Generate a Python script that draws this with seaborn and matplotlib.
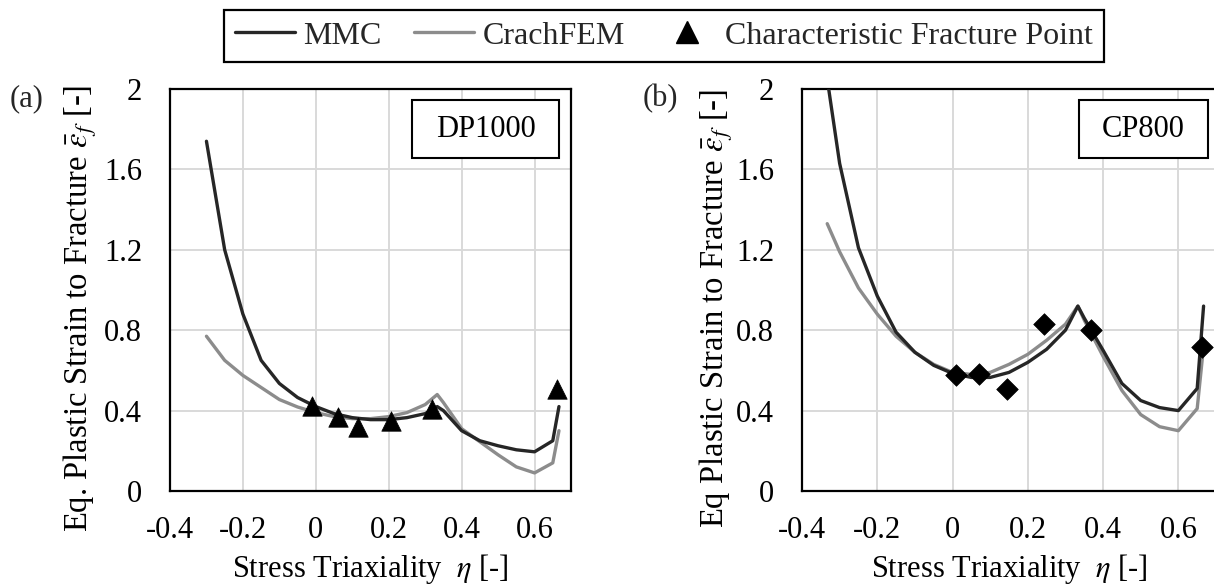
import matplotlib
matplotlib.use("Agg")
import matplotlib.pyplot as plt
import seaborn as sns
from matplotlib.lines import Line2D
from matplotlib.patches import Rectangle

# ---------------- data ----------------
eta_dp = [-0.3, -0.25, -0.2, -0.15, -0.1, -0.05, 0.0, 0.05, 0.1, 0.15, 0.2, 0.25,
          0.3, 0.333, 0.35, 0.4, 0.45, 0.5, 0.55, 0.6, 0.65, 0.667]
mmc_dp = [1.74, 1.20, 0.88, 0.65, 0.535, 0.465, 0.42, 0.385, 0.365, 0.355, 0.355, 0.365,
          0.385, 0.42, 0.40, 0.30, 0.25, 0.225, 0.205, 0.195, 0.25, 0.42]
crach_dp = [0.77, 0.65, 0.575, 0.515, 0.455, 0.418, 0.39, 0.37, 0.36, 0.36, 0.37, 0.39,
            0.43, 0.48, 0.44, 0.31, 0.245, 0.18, 0.12, 0.09, 0.14, 0.30]
pts_dp_x = [-0.01, 0.06, 0.115, 0.207, 0.318, 0.662]
pts_dp_y = [0.425, 0.37, 0.317, 0.35, 0.408, 0.507]

eta_cp = [-0.333, -0.3, -0.25, -0.2, -0.15, -0.1, -0.05, 0.0, 0.05, 0.1, 0.15, 0.2,
          0.25, 0.3, 0.333, 0.35, 0.4, 0.45, 0.5, 0.55, 0.6, 0.65, 0.667]
mmc_cp = [2.05, 1.63, 1.21, 0.97, 0.79, 0.69, 0.625, 0.585, 0.565, 0.565, 0.59, 0.64,
          0.705, 0.80, 0.92, 0.86, 0.70, 0.535, 0.45, 0.415, 0.40, 0.51, 0.92]
crach_cp = [1.33, 1.19, 1.01, 0.88, 0.77, 0.69, 0.63, 0.59, 0.58, 0.59, 0.63, 0.68,
            0.75, 0.83, 0.92, 0.85, 0.67, 0.50, 0.38, 0.32, 0.30, 0.41, 0.72]
pts_cp_x = [0.01, 0.07, 0.145, 0.242, 0.368, 0.664]
pts_cp_y = [0.577, 0.582, 0.507, 0.83, 0.80, 0.714]

xticks = [-0.4, -0.2, 0.0, 0.2, 0.4, 0.6]
xtick_labels = ["-0.4", "-0.2", "0", "0.2", "0.4", "0.6"]
yticks = [0.0, 0.4, 0.8, 1.2, 1.6, 2.0]
ytick_labels = ["0", "0.4", "0.8", "1.2", "1.6", "2"]
series_names = ["MMC", "CrachFEM", "Characteristic Fracture Point"]
materials = ["DP1000", "CP800"]
panel_tags = ["(a)", "(b)"]
ylabels = [r"Eq. Plastic Strain to Fracture $\bar{\varepsilon}_f$ [-]",
           r"Eq Plastic Strain to Fracture $\bar{\varepsilon}_f$ [-]"]
xlabel = r"Stress Triaxiality  $\eta$ [-]"

# ---------------- style ----------------
sns.set_theme(style="white")
plt.rcParams["font.family"] = ["Liberation Serif", "DejaVu Serif"]
plt.rcParams["mathtext.fontset"] = "stix"
plt.rcParams["axes.unicode_minus"] = False

C_MMC = "#262626"
C_CR = "#8c8c8c"
FS = 22

fig = plt.figure(figsize=(12.14, 5.85), dpi=100, facecolor="white")
W, H = 1214.0, 585.0
ax1 = fig.add_axes([170 / W, 1 - 491 / H, 401 / W, 402 / H])
ax2 = fig.add_axes([802 / W, 1 - 491 / H, 414 / W, 402 / H])

panels = [
    (ax1, eta_dp, mmc_dp, crach_dp, pts_dp_x, pts_dp_y, "^", 14 ** 2),
    (ax2, eta_cp, mmc_cp, crach_cp, pts_cp_x, pts_cp_y, "D", 11 ** 2),
]
boxes = [(0.6035, 0.828, 0.3665, 0.1445), (0.668, 0.828, 0.312, 0.1445)]
ylab_x = [-0.177, -0.162]

for i, (ax, ex, mm, cr, px, py, mk, ms) in enumerate(panels):
    sns.lineplot(x=ex, y=cr, ax=ax, color=C_CR, lw=2.4, estimator=None, sort=False, zorder=3)
    sns.lineplot(x=ex, y=mm, ax=ax, color=C_MMC, lw=2.4, estimator=None, sort=False, zorder=4)
    sns.scatterplot(x=px, y=py, ax=ax, marker=mk, s=ms, color="black",
                    edgecolor="black", linewidth=0.5, zorder=5)
    ax.set_xlim(-0.4, 0.7)
    ax.set_ylim(0, 2)
    ax.set_xticks(xticks)
    ax.set_xticklabels(xtick_labels)
    ax.set_yticks(yticks)
    ax.set_yticklabels(ytick_labels)
    ax.tick_params(axis="both", length=0, labelsize=FS, colors="black")
    ax.tick_params(axis="y", pad=20)
    ax.tick_params(axis="x", pad=18)
    ax.grid(True, color="#d9d9d9", lw=1.4)
    ax.set_axisbelow(True)
    for sp in ax.spines.values():
        sp.set_visible(True)
        sp.set_color("black")
        sp.set_linewidth(1.6)
    ax.set_xlabel(xlabel, fontsize=FS, color="black", labelpad=5)
    ax.set_ylabel(ylabels[i], fontsize=23.5, color="black")
    ax.yaxis.set_label_coords(ylab_x[i], 0.455)
    bx, by, bw, bh = boxes[i]
    ax.add_patch(Rectangle((bx, by), bw, bh, transform=ax.transAxes, facecolor="white",
                           edgecolor="black", lw=1.5, zorder=6))
    ax.text(bx + bw / 2, by + bh / 2, materials[i], transform=ax.transAxes, ha="center",
            va="center", fontsize=FS, color="black", zorder=7)

fig.text(26.5 / W, 1 - 99 / H, panel_tags[0], fontsize=FS, ha="center", va="center")
fig.text(660 / W, 1 - 99 / H, panel_tags[1], fontsize=FS, ha="center", va="center")

handles = [
    Line2D([], [], color=C_MMC, lw=2.4),
    Line2D([], [], color=C_CR, lw=2.4),
    Line2D([], [], color="black", lw=0, marker="^", markersize=16),
]
leg = fig.legend(handles, series_names, loc="center", bbox_to_anchor=(664 / W, 1 - 36 / H),
                 ncol=3, frameon=True, fancybox=False, edgecolor="black", framealpha=1,
                 fontsize=23, handlelength=1.9, handletextpad=0.25, columnspacing=1.0,
                 borderpad=0.35, borderaxespad=0)
leg.get_frame().set_linewidth(1.6)

fig.savefig("out.png", dpi=100, facecolor="white")
